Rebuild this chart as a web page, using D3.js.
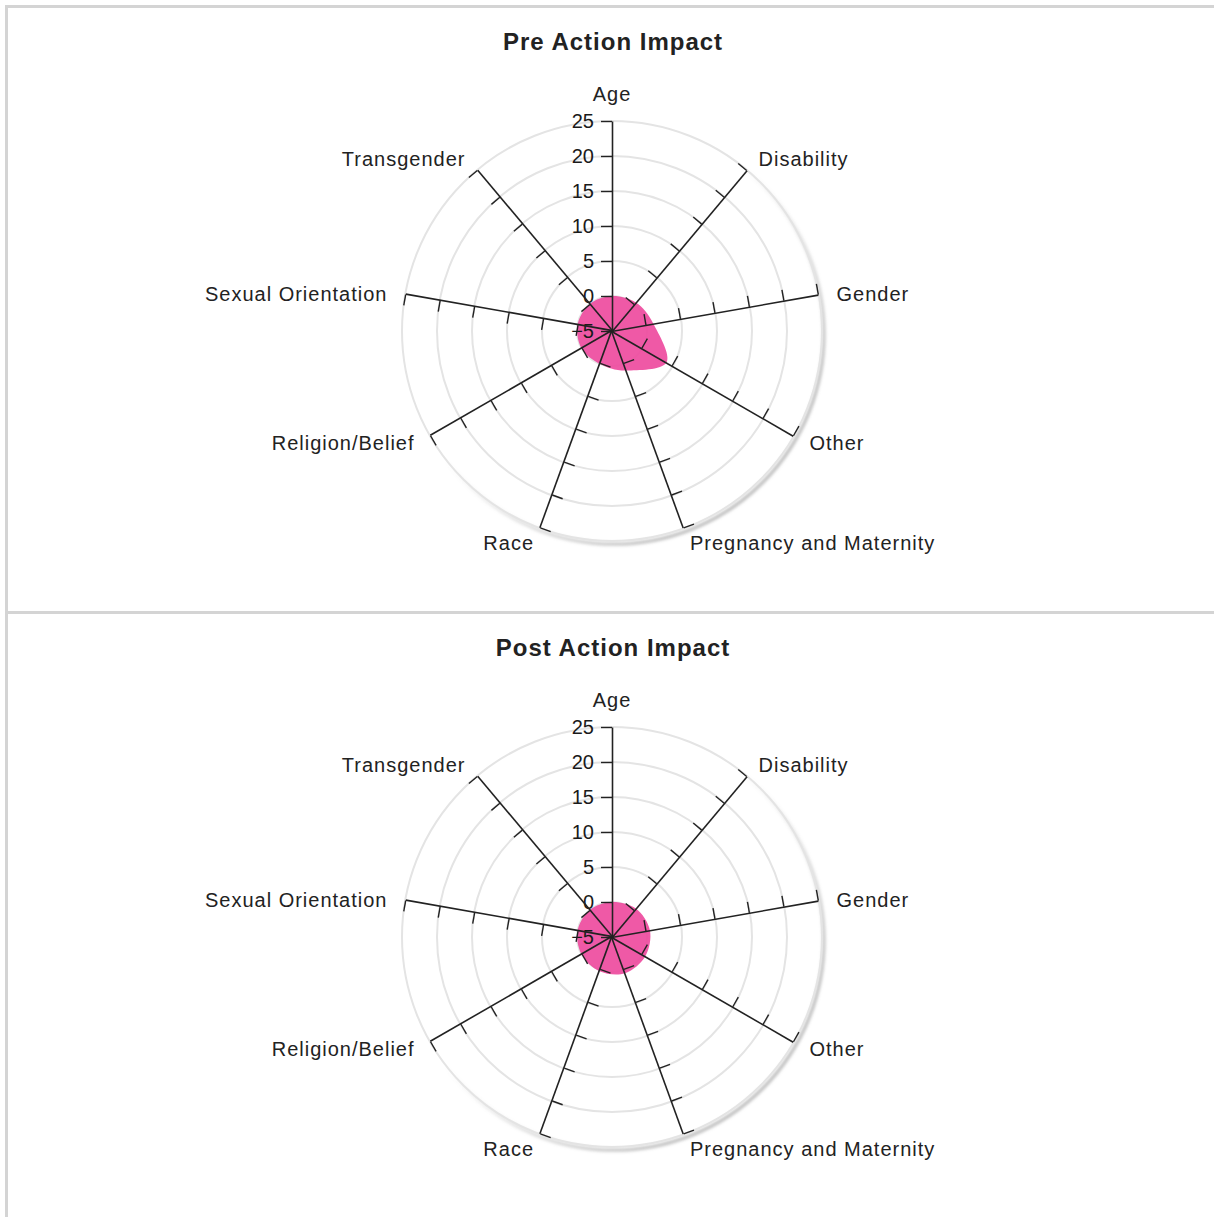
<!DOCTYPE html>
<html>
<head>
<meta charset="utf-8">
<script src="https://cdn.jsdelivr.net/npm/d3@7/dist/d3.min.js"></script>
<style>
  html, body { margin: 0; padding: 0; background: #fff; }
  svg { display: block; }
  text { font-family: "Liberation Sans", Arial, sans-serif; }
</style>
</head>
<body>
<svg id="chart" width="1214" height="1217"></svg>
<script>
// ---- data ----
const categories = ["Age", "Disability", "Gender", "Other", "Pregnancy and Maternity",
  "Race", "Religion/Belief", "Sexual Orientation", "Transgender"];
const preValues  = [0, 0.3, 1, 4, 1, 0, 0, 0, 0];
const postValues = [0, 0.3, 0.5, 0.5, 0.5, 0.2, 0, 0, 0];
const tickValues = [-5, 0, 5, 10, 15, 20, 25];
const panelTitles = ["Pre Action Impact", "Post Action Impact"];

// ---- layout ----
const W = 1214, H = 1217;
const svg = d3.select("#chart");
const border = "#d4d4d4";
const radius = 210;
const panelTops = [8, 614];

const defs = svg.append("defs");
const f = defs.append("filter").attr("id", "blurShadow")
  .attr("x", "-10%").attr("y", "-10%").attr("width", "120%").attr("height", "120%");
f.append("feGaussianBlur").attr("stdDeviation", 1.5);
const grad = defs.append("linearGradient").attr("id", "shadowGrad")
  .attr("x1", "0%").attr("y1", "0%").attr("x2", "100%").attr("y2", "100%");
grad.append("stop").attr("offset", "0%").attr("stop-color", "#999").attr("stop-opacity", 0);
grad.append("stop").attr("offset", "45%").attr("stop-color", "#999").attr("stop-opacity", 0);
grad.append("stop").attr("offset", "80%").attr("stop-color", "#999").attr("stop-opacity", 0.6);
grad.append("stop").attr("offset", "100%").attr("stop-color", "#999").attr("stop-opacity", 0.7);

// borders (table-like)
svg.append("rect").attr("x", 5).attr("y", 5).attr("width", W).attr("height", 3).attr("fill", border);
svg.append("rect").attr("x", 5).attr("y", 5).attr("width", 3).attr("height", H).attr("fill", border);
svg.append("rect").attr("x", 5).attr("y", 611).attr("width", W).attr("height", 3).attr("fill", border);

const r = d3.scaleLinear().domain([-5, 25]).range([0, radius]);
const angle = d3.scaleLinear().domain([0, categories.length]).range([0, 2 * Math.PI]);

function drawPanel(top, title, values) {
  const cx = 612, cy = top + 323;
  const g = svg.append("g").attr("transform", `translate(${cx},${cy})`);

  svg.append("text")
    .attr("x", 613).attr("y", top + 42)
    .attr("text-anchor", "middle")
    .attr("font-size", 24).attr("font-weight", "bold")
    .attr("letter-spacing", 1)
    .attr("fill", "#222")
    .text(title);

  // shadow of outer ring
  g.append("circle")
    .attr("cx", 2).attr("cy", 3)
    .attr("r", r(25))
    .attr("fill", "none")
    .attr("stroke", "url(#shadowGrad)")
    .attr("stroke-width", 3.5)
    .attr("filter", "url(#blurShadow)");

  // grid rings
  const rings = tickValues.filter(v => v > -5);
  g.selectAll("circle.ring").data(rings).join("circle")
    .attr("class", "ring")
    .attr("r", d => r(d))
    .attr("fill", "none")
    .attr("stroke", "#e4e4e4")
    .attr("stroke-width", 2);

  // area
  const line = d3.lineRadial()
    .angle((d, i) => angle(i))
    .radius(d => r(d))
    .curve(d3.curveCardinalClosed);
  g.append("path")
    .datum(values)
    .attr("d", line)
    .attr("fill", "#ee4b9e")
    .attr("fill-opacity", 0.92)
    .attr("stroke", "none");

  // axes
  const axisScale = d3.scaleLinear().domain([-5, 25]).range([0, -radius]);
  categories.forEach((cat, i) => {
    const deg = angle(i) * 180 / Math.PI;
    const ax = d3.axisLeft(axisScale)
      .tickValues(tickValues)
      .tickSize(11)
      .tickSizeOuter(0)
      .tickPadding(7)
      .tickFormat(i === 0 ? d3.format("d") : () => "");
    const ag = g.append("g").attr("transform", `rotate(${deg})`).call(ax);
    ag.select(".domain").attr("stroke", "#222").attr("stroke-width", 1.6);
    ag.selectAll(".tick line").attr("stroke", "#222").attr("stroke-width", 1.4);
    ag.selectAll(".tick text")
      .attr("font-size", 20)
      .attr("font-family", "'Liberation Sans', Arial, sans-serif")
      .attr("fill", "#1a1a1a");
    if (i !== 0) ag.selectAll(".tick").filter(d => d === -5).remove();

    // category label
    const a = angle(i);
    const R = radius + 18 + (i === 0 ? 12 : 0);
    const s = Math.sin(a), c = Math.cos(a);
    const lx = R * s;
    const ly = -R * c + (c > 0.05 ? 3 : (c < -0.05 ? -2 : 0));
    g.append("text")
      .attr("x", lx).attr("y", ly)
      .attr("text-anchor", Math.abs(s) < 0.01 ? "middle" : (s > 0 ? "start" : "end"))
      .attr("dominant-baseline", "central")
      .attr("font-size", 20)
      .attr("letter-spacing", 1)
      .attr("fill", "#222")
      .text(cat);
  });
}

drawPanel(panelTops[0], panelTitles[0], preValues);
drawPanel(panelTops[1], panelTitles[1], postValues);
</script>
</body>
</html>
